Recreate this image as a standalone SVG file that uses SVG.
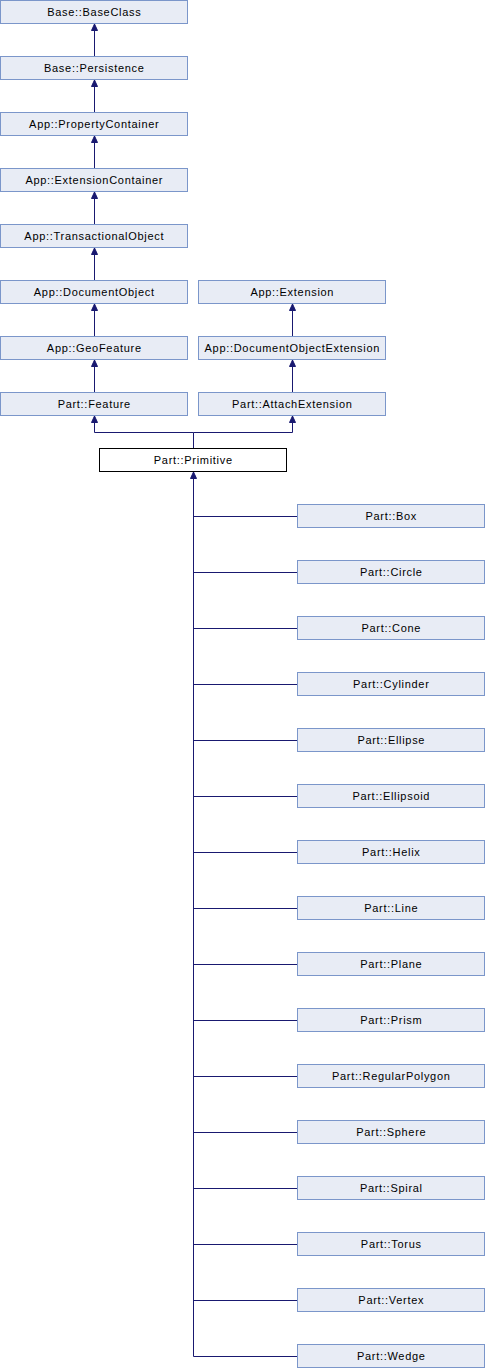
<svg xmlns="http://www.w3.org/2000/svg" width="485" height="1368" viewBox="0 0 485 1368">
<defs>
<marker id="arr" markerWidth="8" markerHeight="8" refX="3.5" refY="0.5" orient="0" markerUnits="userSpaceOnUse" viewBox="0 0 8 8">
<polygon points="3.5,0.5 6.5,7 0.5,7" fill="#191970" stroke="#191970" stroke-width="1"/>
</marker>
<style>
.n rect{fill:#e8ecf5;stroke:#7b96ca;stroke-width:1}
.c rect{fill:#ffffff;stroke:#000000;stroke-width:1}
text{font-family:"Liberation Sans",Arial,sans-serif;font-size:11px;letter-spacing:0.7px;text-anchor:middle;fill:#000}
.e path{fill:none;stroke:#191970;stroke-width:1}
</style>
</defs>
<rect width="485" height="1368" fill="#fff"/>
<g id="edges" class="e">
<path d="M94.5,56 V24" marker-end="url(#arr)"/>
<path d="M94.5,112 V80" marker-end="url(#arr)"/>
<path d="M94.5,168 V136" marker-end="url(#arr)"/>
<path d="M94.5,224 V192" marker-end="url(#arr)"/>
<path d="M94.5,280 V248" marker-end="url(#arr)"/>
<path d="M94.5,336 V304" marker-end="url(#arr)"/>
<path d="M94.5,392 V360" marker-end="url(#arr)"/>
<path d="M292.5,336 V304" marker-end="url(#arr)"/>
<path d="M292.5,392 V360" marker-end="url(#arr)"/>
<path d="M193.5,448 V432.5 H94.5 V416" marker-end="url(#arr)"/>
<path d="M193.5,432.5 H292.5 V416" marker-end="url(#arr)"/>
<path d="M193.5,1356.5 V472" marker-end="url(#arr)"/>
<path d="M193.5,516.5 H297 M193.5,572.5 H297 M193.5,628.5 H297 M193.5,684.5 H297 M193.5,740.5 H297 M193.5,796.5 H297 M193.5,852.5 H297 M193.5,908.5 H297 M193.5,964.5 H297 M193.5,1020.5 H297 M193.5,1076.5 H297 M193.5,1132.5 H297 M193.5,1188.5 H297 M193.5,1244.5 H297 M193.5,1300.5 H297 M193.5,1356.5 H297"/>
</g>
<g id="n_baseclass" class="n"><rect x="0.5" y="0.5" width="187" height="23"/><text x="94.3" y="15.8">Base::BaseClass</text></g>
<g id="n_persistence" class="n"><rect x="0.5" y="56.5" width="187" height="23"/><text x="94.3" y="71.8">Base::Persistence</text></g>
<g id="n_propertycontainer" class="n"><rect x="0.5" y="112.5" width="187" height="23"/><text x="94.3" y="127.8">App::PropertyContainer</text></g>
<g id="n_extensioncontainer" class="n"><rect x="0.5" y="168.5" width="187" height="23"/><text x="94.3" y="183.8">App::ExtensionContainer</text></g>
<g id="n_transactionalobject" class="n"><rect x="0.5" y="224.5" width="187" height="23"/><text x="94.3" y="239.8">App::TransactionalObject</text></g>
<g id="n_documentobject" class="n"><rect x="0.5" y="280.5" width="187" height="23"/><text x="94.3" y="295.8">App::DocumentObject</text></g>
<g id="n_geofeature" class="n"><rect x="0.5" y="336.5" width="187" height="23"/><text x="94.3" y="351.8">App::GeoFeature</text></g>
<g id="n_feature" class="n"><rect x="0.5" y="392.5" width="187" height="23"/><text x="94.3" y="407.8">Part::Feature</text></g>
<g id="n_extension" class="n"><rect x="198.5" y="280.5" width="187" height="23"/><text x="292.3" y="295.8">App::Extension</text></g>
<g id="n_docobjext" class="n"><rect x="198.5" y="336.5" width="187" height="23"/><text x="292.3" y="351.8">App::DocumentObjectExtension</text></g>
<g id="n_attachext" class="n"><rect x="198.5" y="392.5" width="187" height="23"/><text x="292.3" y="407.8">Part::AttachExtension</text></g>
<g id="n_primitive" class="c"><rect x="99.5" y="448.5" width="187" height="23"/><text x="193.3" y="463.8">Part::Primitive</text></g>
<g id="n_box" class="n"><rect x="297.5" y="504.5" width="187" height="23"/><text x="391.3" y="519.8">Part::Box</text></g>
<g id="n_circle" class="n"><rect x="297.5" y="560.5" width="187" height="23"/><text x="391.3" y="575.8">Part::Circle</text></g>
<g id="n_cone" class="n"><rect x="297.5" y="616.5" width="187" height="23"/><text x="391.3" y="631.8">Part::Cone</text></g>
<g id="n_cylinder" class="n"><rect x="297.5" y="672.5" width="187" height="23"/><text x="391.3" y="687.8">Part::Cylinder</text></g>
<g id="n_ellipse" class="n"><rect x="297.5" y="728.5" width="187" height="23"/><text x="391.3" y="743.8">Part::Ellipse</text></g>
<g id="n_ellipsoid" class="n"><rect x="297.5" y="784.5" width="187" height="23"/><text x="391.3" y="799.8">Part::Ellipsoid</text></g>
<g id="n_helix" class="n"><rect x="297.5" y="840.5" width="187" height="23"/><text x="391.3" y="855.8">Part::Helix</text></g>
<g id="n_line" class="n"><rect x="297.5" y="896.5" width="187" height="23"/><text x="391.3" y="911.8">Part::Line</text></g>
<g id="n_plane" class="n"><rect x="297.5" y="952.5" width="187" height="23"/><text x="391.3" y="967.8">Part::Plane</text></g>
<g id="n_prism" class="n"><rect x="297.5" y="1008.5" width="187" height="23"/><text x="391.3" y="1023.8">Part::Prism</text></g>
<g id="n_regularpolygon" class="n"><rect x="297.5" y="1064.5" width="187" height="23"/><text x="391.3" y="1079.8">Part::RegularPolygon</text></g>
<g id="n_sphere" class="n"><rect x="297.5" y="1120.5" width="187" height="23"/><text x="391.3" y="1135.8">Part::Sphere</text></g>
<g id="n_spiral" class="n"><rect x="297.5" y="1176.5" width="187" height="23"/><text x="391.3" y="1191.8">Part::Spiral</text></g>
<g id="n_torus" class="n"><rect x="297.5" y="1232.5" width="187" height="23"/><text x="391.3" y="1247.8">Part::Torus</text></g>
<g id="n_vertex" class="n"><rect x="297.5" y="1288.5" width="187" height="23"/><text x="391.3" y="1303.8">Part::Vertex</text></g>
<g id="n_wedge" class="n"><rect x="297.5" y="1344.5" width="187" height="23"/><text x="391.3" y="1359.8">Part::Wedge</text></g>
</svg>
